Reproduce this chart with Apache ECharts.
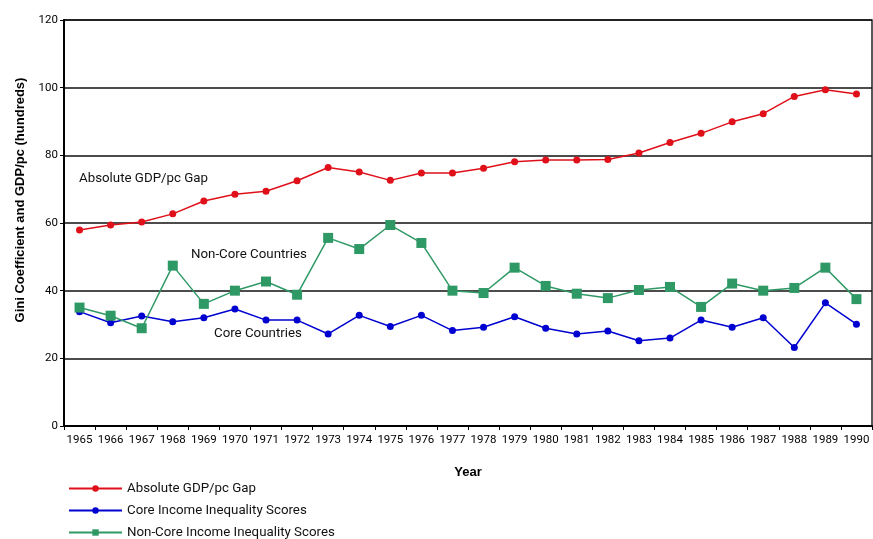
<!DOCTYPE html>
<html>
<head>
<meta charset="utf-8">
<script src="https://cdn.jsdelivr.net/npm/echarts@6/dist/echarts.min.js"></script>
<style>
html,body{margin:0;padding:0;background:#fff;}
#chart{width:873px;height:539px;}
</style>
</head>
<body>
<div id="chart"></div>
<script>
var years = ['1965','1966','1967','1968','1969','1970','1971','1972','1973','1974','1975','1976','1977','1978','1979','1980','1981','1982','1983','1984','1985','1986','1987','1988','1989','1990'];
var gdpGap = [57.9,59.4,60.3,62.7,66.5,68.5,69.4,72.5,76.4,75.1,72.6,74.8,74.8,76.2,78.1,78.6,78.6,78.8,80.7,83.8,86.5,89.9,92.3,97.4,99.4,98.1];
var coreScores = [33.8,30.5,32.5,30.8,32.0,34.6,31.3,31.3,27.2,32.7,29.4,32.7,28.2,29.2,32.3,28.9,27.2,28.1,25.2,26.0,31.3,29.2,32.0,23.2,36.4,30.1];
var nonCoreScores = [35.0,32.6,28.9,47.4,36.1,40.0,42.7,38.8,55.6,52.3,59.4,54.1,40.0,39.3,46.8,41.4,39.1,37.8,40.2,41.1,35.2,42.1,40.0,40.8,46.8,37.5];
var yTicks = [0,20,40,60,80,100,120];
var seriesNames = ['Absolute GDP/pc Gap','Core Income Inequality Scores','Non-Core Income Inequality Scores'];
var annotations = ['Absolute GDP/pc Gap','Non-Core Countries','Core Countries'];

var FONT = 'Roboto,"Liberation Sans",Arial,sans-serif';
var TICKFONT = 'Roboto,"Liberation Sans",sans-serif';
var chart = echarts.init(document.getElementById('chart'));
chart.setOption({
  animation: false,
  grid: {left: 64, right: 1, top: 20, bottom: 113, show: true, borderColor: '#222', borderWidth: 1.5, backgroundColor: 'transparent'},
  xAxis: {
    type: 'category', data: years, boundaryGap: true,
    name: 'Year', nameLocation: 'middle', nameGap: 40,
    nameTextStyle: {fontFamily: 'Arial, "Liberation Sans", sans-serif', fontWeight: 'bold', fontSize: 13, color: '#000'},
    axisLine: {lineStyle: {color: '#000', width: 2}},
    axisTick: {show: true, alignWithLabel: false, length: 4, lineStyle: {color: '#000'}},
    axisLabel: {fontFamily: TICKFONT, fontSize: 11.5, color: '#000', margin: 8, interval: 0}
  },
  yAxis: {
    type: 'value', min: 0, max: 120, interval: 20,
    axisLine: {show: true, lineStyle: {color: '#000', width: 2}},
    axisTick: {show: true, length: 4, lineStyle: {color: '#000'}},
    axisLabel: {fontFamily: TICKFONT, fontSize: 11.5, color: '#000', margin: 6,
      formatter: function(v){ return yTicks.indexOf(v) >= 0 ? String(v) : ''; }},
    splitLine: {show: true, lineStyle: {color: '#111', width: 1.5}}
  },
  legend: {
    orient: 'vertical', left: 68, top: 482, height: 80, padding: 0,
    itemWidth: 53, itemHeight: 8, itemGap: 9,
    textStyle: {fontFamily: FONT, fontSize: 13.3, color: '#111'},
    data: seriesNames
  },
  series: [
    {name: seriesNames[0], type: 'line', data: gdpGap, symbol: 'circle', symbolSize: 7,
      itemStyle: {color: '#e0101a'}, lineStyle: {color: '#e0101a', width: 1.5}},
    {name: seriesNames[1], type: 'line', data: coreScores, symbol: 'circle', symbolSize: 7,
      itemStyle: {color: '#0000d0'}, lineStyle: {color: '#0000d0', width: 1.5}},
    {name: seriesNames[2], type: 'line', data: nonCoreScores, symbol: 'rect', symbolSize: 10,
      itemStyle: {color: '#2f9966'}, lineStyle: {color: '#2f9966', width: 1.5}}
  ],
  graphic: [
    {type: 'text', x: 20, y: 200, rotation: Math.PI / 2,
      style: {text: 'Gini Coefficient and GDP/pc (hundreds)', font: 'bold 13px Arial,"Liberation Sans",sans-serif', fill: '#000', align: 'center', verticalAlign: 'middle'}},
    {type: 'text', left: 79, top: 172, style: {text: annotations[0], font: '13.3px ' + FONT, fill: '#111'}},
    {type: 'text', left: 191, top: 248, style: {text: annotations[1], font: '13.3px ' + FONT, fill: '#111'}},
    {type: 'text', left: 214, top: 327, style: {text: annotations[2], font: '13.3px ' + FONT, fill: '#111'}}
  ]
});
</script>
</body>
</html>
